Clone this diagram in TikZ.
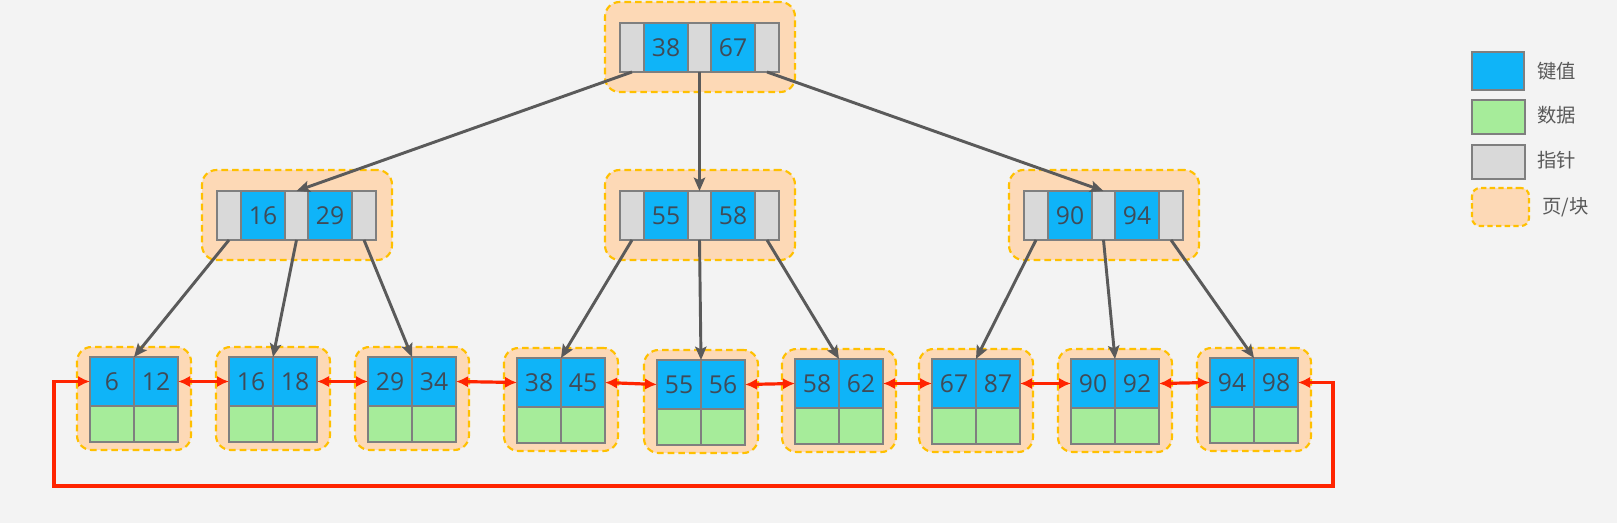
\documentclass[tikz,border=0pt]{standalone}
\usepackage{fontspec}
\setmainfont{Open Sans}
\newfontfamily\cjk{Noto Sans CJK SC}
\usetikzlibrary{arrows.meta}
\definecolor{bgc}{RGB}{243,243,243}
\definecolor{keyb}{HTML}{0FB4F8}
\definecolor{datg}{HTML}{A6EC9A}
\definecolor{ptrg}{HTML}{D9D9D9}
\definecolor{pagef}{HTML}{FDD9B6}
\definecolor{pageo}{HTML}{FFC000}
\definecolor{cellb}{HTML}{7F7F7F}
\definecolor{txt}{HTML}{3F4B58}
\definecolor{lgtxt}{HTML}{595959}
\definecolor{arrg}{HTML}{5A5A5A}
\definecolor{linkr}{HTML}{FF2400}
\tikzset{
 cell/.style={draw=cellb, line width=0.9pt, inner sep=0pt, outer sep=0pt, minimum height=36.75pt, font=\fontsize{18.5}{18.5}\selectfont, text=txt},
 keycell/.style={cell, fill=keyb, minimum width=33pt},
 ptrcell/.style={cell, fill=ptrg},
 datacell/.style={cell, fill=datg, minimum width=33pt, minimum height=27pt},
 pagebox/.style={draw=pageo, fill=pagef, dash pattern=on 5pt off 3pt, line width=1.6pt, rounded corners=11pt, inner sep=0pt, outer sep=0pt},
 ptrarrow/.style={draw=arrg, line width=2.2pt, -{Stealth[length=10pt,width=8.5pt,inset=2pt]}},
 link/.style={draw=linkr, line width=2.4pt, {Latex[length=9pt,width=8.5pt]}-{Latex[length=9pt,width=8.5pt]}},
 lgbox/.style={draw=cellb, line width=0.9pt, inner sep=0pt, minimum width=39.75pt, minimum height=25.5pt},
 lgtext/.style={anchor=west, inner sep=0pt, font=\cjk\fontsize{14.5}{14.5}\selectfont, text=lgtxt},
}
\newcommand\BTinner[5]{%
 \node[pagebox, minimum width=142.5pt, minimum height=67.5pt] (#1) at ({#2+80},{#3+24}) {};
 \node[ptrcell, minimum width=18pt] (#1-p1) at ({#2+12},{#3+24.5}) {};
 \node[keycell] (#1-k1) at ({#2+46},{#3+24.5}) {#4};
 \node[ptrcell, minimum width=17.25pt] (#1-p2) at ({#2+79.5},{#3+24.5}) {};
 \node[keycell] (#1-k2) at ({#2+113},{#3+24.5}) {#5};
 \node[ptrcell, minimum width=18pt] (#1-p3) at ({#2+147},{#3+24.5}) {};
}
% name, left x, top y, key1, key2
\newcommand\BTleaf[5]{%
 \node[pagebox, minimum width=85.5pt, minimum height=77.25pt] (#1) at ({#2+44},{#3+41.5}) {};
 \node[keycell] (#1-k1) at ({#2+22},{#3+24.5}) {#4};
 \node[keycell] (#1-k2) at ({#2+66},{#3+24.5}) {#5};
 \node[datacell] (#1-d1) at ({#2+22},{#3+67}) {};
 \node[datacell] (#1-d2) at ({#2+66},{#3+67}) {};
}
\begin{document}
\begin{tikzpicture}[x=0.75pt,y=-0.75pt]
\fill[bgc] (0,0) rectangle (1617,523);
\useasboundingbox (0,0) rectangle (1617,523);
% internal nodes
\BTinner{root}{620}{23}{38}{67}
\BTinner{na}{217}{191}{16}{29}
\BTinner{nb}{620}{191}{55}{58}
\BTinner{nc}{1024}{191}{90}{94}
% leaves
\BTleaf{la}{90}{357}{6}{12}
\BTleaf{lb}{229}{357}{16}{18}
\BTleaf{lc}{368}{357}{29}{34}
\BTleaf{ld}{517}{358}{38}{45}
\BTleaf{le}{657}{360}{55}{56}
\BTleaf{lf}{795}{359}{58}{62}
\BTleaf{lg}{932}{359}{67}{87}
\BTleaf{lh}{1071}{359}{90}{92}
\BTleaf{li}{1210}{358}{94}{98}
% pointer arrows
\draw[ptrarrow] (root-p1.south) -- (na-p2.north);
\draw[ptrarrow] (root-p2.south) -- (nb-p2.north);
\draw[ptrarrow] (root-p3.south) -- (nc-p2.north);
\draw[ptrarrow] (na-p1.south) -- (la-k1.north east);
\draw[ptrarrow] (na-p2.south) -- (lb-k1.north east);
\draw[ptrarrow] (na-p3.south) -- (lc-k1.north east);
\draw[ptrarrow] (nb-p1.south) -- (ld-k1.north east);
\draw[ptrarrow] (nb-p2.south) -- (le-k1.north east);
\draw[ptrarrow] (nb-p3.south) -- (lf-k1.north east);
\draw[ptrarrow] (nc-p1.south) -- (lg-k1.north east);
\draw[ptrarrow] (nc-p2.south) -- (lh-k1.north east);
\draw[ptrarrow] (nc-p3.south) -- (li-k1.north east);
% leaf links
\draw[link] (la-k2.east) -- (lb-k1.west);
\draw[link] (lb-k2.east) -- (lc-k1.west);
\draw[link] (lc-k2.east) -- (ld-k1.west);
\draw[link] (ld-k2.east) -- (le-k1.west);
\draw[link] (le-k2.east) -- (lf-k1.west);
\draw[link] (lf-k2.east) -- (lg-k1.west);
\draw[link] (lg-k2.east) -- (lh-k1.west);
\draw[link] (lh-k2.east) -- (li-k1.west);
\coordinate (loopR) at (1333,486);
\coordinate (loopL) at (54,486);
\draw[link] (li-k2.east) -| (loopR) -- (loopL) |- (la-k1.west);
% legend
\node[lgbox, fill=keyb, minimum width=39pt, minimum height=28.5pt] (lgk) at (1498,71) {};
\node[lgbox, fill=datg] (lgd) at (1498.5,117) {};
\node[lgbox, fill=ptrg] (lgp) at (1498.5,162) {};
\node[pagebox, rounded corners=6pt, minimum width=42.75pt, minimum height=28.5pt, dash pattern=on 4pt off 2.5pt] (lgpg) at (1500.5,207) {};
\node[lgtext] (lgkt) at (1537,71) {键值};
\node[lgtext] (lgdt) at (1537,115) {数据};
\node[lgtext] (lgpt) at (1537,160) {指针};
\node[lgtext] (lgpgt) at (1542,207) {页/块};
\end{tikzpicture}
\end{document}
